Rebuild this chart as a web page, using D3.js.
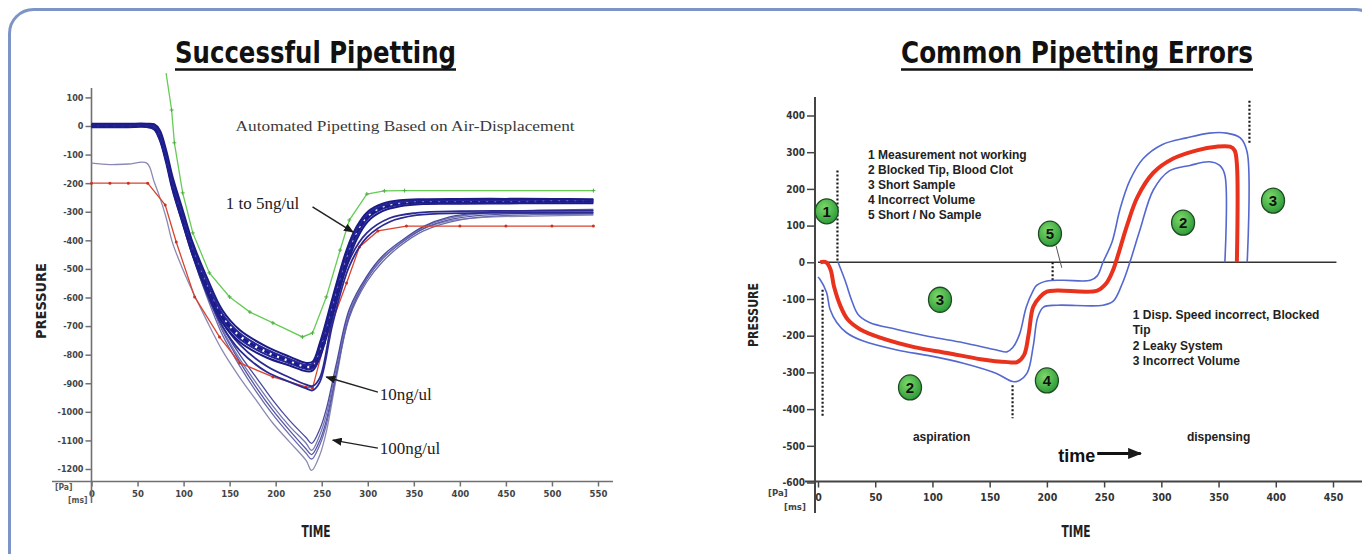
<!DOCTYPE html>
<html>
<head>
<meta charset="utf-8">
<script src="https://cdn.jsdelivr.net/npm/d3@7"></script>
<style>
body { margin: 0; background: #fff; }
svg { display: block; }
</style>
</head>
<body>
<svg id="chart" width="1362" height="554"></svg>
<script>
// ---------- left chart: Successful Pipetting ----------
const leftXTicks = [0, 50, 100, 150, 200, 250, 300, 350, 400, 450, 500, 550];
const leftYTicks = [100, 0, -100, -200, -300, -400, -500, -600, -700, -800, -900, -1000, -1100, -1200];

// 1 to 5ng/ul band
const bandTime = [0, 20, 40, 60, 68, 74, 81, 88, 99, 110, 125, 142, 161, 190, 215, 233, 240, 248, 262, 277, 288, 300, 316, 335, 360, 400, 450, 500, 545];
const band1 = [8, 8, 8, 8, 6, -14, -84, -178, -294, -409, -528, -644, -714, -772, -807, -829, -825, -759, -598, -434, -352, -300, -272, -260, -256, -255, -255, -255, -256];
const band2 = [4, 5, 4, 5, 0, -25, -98, -192, -308, -420, -542, -656, -725, -782, -815, -836, -832, -772, -612, -448, -362, -308, -278, -265, -260, -259, -259, -258, -259];
const band3 = [1, 2, 1, 2, -4, -32, -108, -202, -318, -430, -552, -665, -735, -790, -822, -843, -840, -785, -625, -460, -372, -316, -284, -270, -264, -263, -263, -262, -262];
const band4 = [-2, -1, -2, -1, -8, -40, -118, -212, -328, -440, -562, -675, -745, -800, -830, -850, -848, -798, -640, -474, -384, -324, -290, -275, -268, -267, -267, -266, -266];
const band5 = [-4, -4, -4, -4, -12, -48, -128, -224, -340, -452, -574, -686, -756, -810, -838, -858, -856, -810, -655, -488, -396, -334, -298, -281, -273, -272, -271, -270, -270];

// 10ng/ul
const tenTime = [0, 20, 40, 60, 68, 74, 81, 88, 99, 110, 125, 142, 161, 190, 215, 233, 240, 248, 262, 280, 299, 324, 353, 400, 450, 500, 545];
const ten1 = [2, 2, 2, 2, -8, -40, -115, -212, -330, -445, -570, -685, -765, -840, -880, -905, -910, -880, -668, -469, -374, -322, -304, -298, -297, -297, -297];
const ten2 = [0, 0, 0, 0, -10, -45, -120, -220, -340, -455, -585, -700, -785, -860, -895, -918, -925, -895, -690, -490, -390, -335, -312, -305, -304, -304, -304];

// 100ng/ul
const hundredTime = [0, 20, 40, 60, 68, 74, 81, 88, 99, 110, 125, 142, 161, 179, 197, 215, 233, 239, 248, 255, 266, 280, 299, 316, 335, 360, 389, 425, 480, 545];
const hundred1 = [0, 0, 0, 0, -5, -40, -115, -210, -330, -445, -575, -700, -800, -880, -960, -1030, -1090, -1110, -1060, -990, -830, -640, -525, -455, -405, -352, -318, -302, -295, -292];
const hundred2 = [0, 0, 0, 0, -5, -35, -105, -200, -325, -445, -580, -710, -815, -900, -980, -1050, -1110, -1135, -1080, -1010, -845, -650, -530, -462, -410, -355, -322, -306, -298, -296];
const hundred3 = [3, 3, 3, 3, -2, -30, -100, -195, -320, -440, -580, -715, -825, -915, -995, -1065, -1130, -1150, -1100, -1030, -860, -660, -535, -465, -412, -360, -328, -312, -305, -303];
const hundred4 = [0, 0, 0, 0, -5, -40, -110, -205, -330, -455, -595, -730, -840, -930, -1010, -1080, -1145, -1165, -1115, -1045, -870, -670, -545, -475, -420, -368, -336, -318, -310, -308];
const hundred5 = [-130, -135, -133, -130, -195, -248, -320, -409, -500, -580, -680, -785, -880, -960, -1040, -1105, -1170, -1205, -1150, -1070, -880, -665, -535, -462, -412, -360, -332, -320, -315, -312];

// green and red reference runs
const greenTime = [81, 87, 90, 99, 110, 128, 150, 172, 197, 229, 240, 255, 270, 280, 299, 318, 340, 545];
const greenValues = [185, 56, -59, -234, -374, -514, -598, -651, -689, -738, -724, -598, -434, -329, -238, -227, -226, -226];
const redTime = [0, 20, 40, 61, 80, 92, 112, 139, 161, 197, 233, 240, 253, 277, 291, 311, 342, 400, 450, 500, 545];
const redValues = [-200, -200, -200, -200, -276, -406, -598, -738, -829, -878, -913, -917, -759, -549, -423, -367, -350, -350, -350, -350, -350];

// ---------- right chart: Common Pipetting Errors ----------
const rightXTicks = [0, 50, 100, 150, 200, 250, 300, 350, 400, 450];
const rightYTicks = [400, 300, 200, 100, 0, -100, -200, -300, -400, -500, -600];

const redTimeR = [2, 7, 11, 14, 20, 26, 37, 55, 84, 113, 142, 166, 174, 180, 184, 188, 194, 200, 209, 244, 252, 258, 262, 270, 279, 293, 310, 331, 348, 360, 364, 366, 366];
const redValuesR = [0, 0, -20, -66, -122, -156, -183, -206, -231, -247, -264, -272, -272, -253, -197, -122, -94, -80, -77, -77, -57, -20, 18, 100, 177, 244, 282, 305, 315, 315, 305, 268, 0];
const upperTime = [17.5, 23.6, 29.7, 35, 45, 69, 98, 127, 156, 165, 170, 176, 182, 188, 191, 200, 214, 238, 244, 249, 257, 264, 272.5, 284, 301, 322, 342, 357, 369, 375, 375];
const upperValues = [0, -49, -106, -142, -164, -183, -203, -219, -239, -244, -233, -197, -122, -77, -63, -51, -49, -49, -37, 0, 56, 146, 223, 282, 321, 339, 352, 352, 339, 300, 0];
const lowerTime = [0, 1.7, 7.5, 10.5, 16.4, 25, 39, 69, 98, 127, 156, 170, 176, 183, 188, 192, 197, 209, 249, 258, 266, 272.5, 281, 293, 307, 325, 342, 351, 355.5, 355.5];
const lowerValues = [-40, -46, -82, -128, -164, -192, -214, -239, -255, -275, -303, -325, -322, -300, -230, -150, -122, -117, -117, -106, -57, 0, 85, 197, 249, 264, 274, 264, 238, 0];

// dotted markers: [time, from, to]
const dottedMarks = [[17, 250, 0], [4, -75, -420], [170, -335, -425], [205, 0, -50], [377, 440, 320]];
// numbered error badges: [label, time, pressure]
const badges = [["1", 7.6, 139], ["3", 106.6, -102], ["2", 80.4, -341], ["4", 200, -322], ["5", 202.7, 78], ["2", 319, 108], ["3", 397.6, 168]];
const aspirationNotes = ["1 Measurement not working", "2 Blocked Tip, Blood Clot", "3 Short Sample", "4 Incorrect Volume", "5 Short / No Sample"];
const dispensingNotes = ["1 Disp. Speed incorrect, Blocked", "Tip", "2 Leaky System", "3 Incorrect Volume"];

// ---------- drawing ----------
const condFont = '"DejaVu Sans Condensed","Liberation Sans Narrow","DejaVu Sans",sans-serif';
const armFont = '"Liberation Sans",Arial,sans-serif';
const serifFont = '"Liberation Serif","DejaVu Serif",serif';

const svg = d3.select("#chart");

svg.append("rect")
    .attr("x", 9.5).attr("y", 9.5)
    .attr("width", 1370).attr("height", 580)
    .attr("rx", 24)
    .attr("fill", "none")
    .attr("stroke", "#7d95c6")
    .attr("stroke-width", 3);

const defs = svg.append("defs");
function arrowMarker(id, w, h) {
    defs.append("marker")
        .attr("id", id)
        .attr("viewBox", "0 0 10 8")
        .attr("refX", 9).attr("refY", 4)
        .attr("markerWidth", w).attr("markerHeight", h)
        .attr("markerUnits", "userSpaceOnUse")
        .attr("orient", "auto")
        .append("path").attr("d", "M0,0L10,4L0,8Z").attr("fill", "#1a1a1a");
}
arrowMarker("arrow", 10, 8);
arrowMarker("arrowBig", 14, 12);
const grad = defs.append("radialGradient").attr("id", "badge").attr("cx", "40%").attr("cy", "35%").attr("r", "65%");
grad.append("stop").attr("offset", "0%").attr("stop-color", "#7cd96a");
grad.append("stop").attr("offset", "100%").attr("stop-color", "#2f9c3a");

function title(text, x, width) {
    svg.append("text")
        .attr("x", x).attr("y", 63)
        .attr("font-family", condFont)
        .attr("font-weight", "bold")
        .attr("font-size", 31)
        .attr("textLength", width)
        .attr("lengthAdjust", "spacingAndGlyphs")
        .attr("fill", "#111")
        .text(text);
    svg.append("line")
        .attr("x1", x).attr("x2", x + width)
        .attr("y1", 69.5).attr("y2", 69.5)
        .attr("stroke", "#111").attr("stroke-width", 2.5);
}
title("Successful Pipetting", 175, 281);
title("Common Pipetting Errors", 901, 352);

function styleAxis(g, size, color, textColor) {
    g.attr("font-family", condFont)
        .attr("font-weight", "bold")
        .attr("font-size", size);
    g.select(".domain").remove();
    g.selectAll(".tick line").attr("stroke", color).attr("stroke-width", 1.5);
    g.selectAll(".tick text").attr("fill", textColor);
}

// ----- left chart -----
const xL = d3.scaleLinear().domain([0, 550]).range([91.5, 598]);
const yL = d3.scaleLinear().domain([-1200, 100]).range([469, 97.4]);
const leftG = svg.append("g");
const axisColL = "#707070";

leftG.append("g")
    .attr("transform", `translate(${xL(0)},0)`)
    .call(d3.axisLeft(yL).tickValues(leftYTicks).tickSize(6).tickPadding(2).tickFormat(d => String(d)))
    .call(g => styleAxis(g, 9, axisColL, "#444"));
leftG.append("g")
    .attr("transform", "translate(0,481.5)")
    .call(d3.axisBottom(xL).tickValues(leftXTicks).tickSize(5).tickPadding(4).tickFormat(d => String(d)))
    .call(g => styleAxis(g, 9.5, axisColL, "#444"));
leftG.append("line")
    .attr("x1", xL(0)).attr("x2", xL(0)).attr("y1", 88).attr("y2", 503)
    .attr("stroke", axisColL).attr("stroke-width", 1.6);
leftG.append("line")
    .attr("x1", 52).attr("x2", 613).attr("y1", 481.5).attr("y2", 481.5)
    .attr("stroke", axisColL).attr("stroke-width", 1.6);

leftG.append("text").attr("x", 55).attr("y", 490).text("[Pa]")
    .attr("font-family", condFont).attr("font-weight", "bold").attr("font-size", 8.5).attr("fill", "#555");
leftG.append("text").attr("x", 68).attr("y", 503).text("[ms]")
    .attr("font-family", condFont).attr("font-weight", "bold").attr("font-size", 8.5).attr("fill", "#555");
leftG.append("text")
    .attr("transform", "translate(46,301) rotate(-90)")
    .attr("text-anchor", "middle")
    .attr("font-family", condFont).attr("font-weight", "bold").attr("font-size", 14)
    .attr("textLength", 76).attr("lengthAdjust", "spacingAndGlyphs")
    .attr("fill", "#222").text("PRESSURE");
leftG.append("text")
    .attr("x", 316).attr("y", 537).attr("text-anchor", "middle")
    .attr("font-family", condFont).attr("font-weight", "bold").attr("font-size", 15)
    .attr("textLength", 29).attr("lengthAdjust", "spacingAndGlyphs")
    .attr("fill", "#222").text("TIME");

const lineL = d3.line().x(d => xL(d[0])).y(d => yL(d[1])).curve(d3.curveCatmullRom.alpha(0.5));
const polyL = d3.line().x(d => xL(d[0])).y(d => yL(d[1]));

const hundredSeries = [
    [hundred5, "#8a8ab4"], [hundred4, "#6a6aae"], [hundred3, "#5555a6"],
    [hundred2, "#7676b4"], [hundred1, "#4a4aa0"]
];
hundredSeries.forEach(([vals, col]) => {
    leftG.append("path")
        .attr("d", lineL(d3.zip(hundredTime, vals)))
        .attr("fill", "none").attr("stroke", col).attr("stroke-width", 1.3);
});

leftG.append("path")
    .attr("d", polyL(d3.zip(greenTime, greenValues)))
    .attr("fill", "none").attr("stroke", "#66cc55").attr("stroke-width", 1.3);
leftG.append("g").selectAll("path")
    .data(d3.zip(greenTime, greenValues).slice(1))
    .join("path")
    .attr("d", d => `M${xL(d[0]) - 2},${yL(d[1])}h4M${xL(d[0])},${yL(d[1]) - 2}v4`)
    .attr("stroke", "#4fae44").attr("stroke-width", 1);

leftG.append("path")
    .attr("d", polyL(d3.zip(redTime, redValues)))
    .attr("fill", "none").attr("stroke", "#d9432f").attr("stroke-width", 1.3);
leftG.append("g").selectAll("circle")
    .data(d3.zip(redTime, redValues))
    .join("circle")
    .attr("cx", d => xL(d[0])).attr("cy", d => yL(d[1])).attr("r", 1.5)
    .attr("fill", "#c8321f");

[ten1, ten2].forEach(vals => {
    leftG.append("path")
        .attr("d", lineL(d3.zip(tenTime, vals)))
        .attr("fill", "none").attr("stroke", "#2a2a92").attr("stroke-width", 1.8);
});

[band5, band4, band3, band2, band1].forEach((vals, i) => {
    leftG.append("path")
        .attr("d", lineL(d3.zip(bandTime, vals)))
        .attr("fill", "none").attr("stroke", i % 2 ? "#26269a" : "#1b1b86")
        .attr("stroke-width", i === 2 ? 3.4 : 2)
        .attr("stroke-dasharray", i === 2 ? "6,2" : null);
});

// annotations
leftG.append("text")
    .attr("x", xL(156.5)).attr("y", yL(-17.5))
    .attr("font-family", serifFont).attr("font-size", 15.5)
    .attr("textLength", 339).attr("lengthAdjust", "spacingAndGlyphs")
    .attr("fill", "#3a3a3a").text("Automated Pipetting Based on Air-Displacement");
const leftNotes = [
    ["1 to 5ng/ul", 145.7, -290, [[240, -283], [284, -371]]],
    ["10ng/ul", 313, -959, [[311, -931], [255, -878]]],
    ["100ng/ul", 313, -1148, [[311, -1127], [262, -1099]]]
];
leftNotes.forEach(([label, t, p, arrow]) => {
    leftG.append("text")
        .attr("x", xL(t)).attr("y", yL(p))
        .attr("font-family", serifFont).attr("font-size", 17)
        .attr("fill", "#222").text(label);
    leftG.append("path")
        .attr("d", polyL(arrow))
        .attr("stroke", "#222").attr("stroke-width", 1.5)
        .attr("marker-end", "url(#arrow)");
});

// ----- right chart -----
const xR = d3.scaleLinear().domain([0, 450]).range([818, 1333]);
const yR = d3.scaleLinear().domain([-600, 400]).range([482.5, 115.5]);
const rightG = svg.append("g");
const axisColR = "#444";

rightG.append("g")
    .attr("transform", "translate(815,0)")
    .call(d3.axisLeft(yR).tickValues(rightYTicks).tickSize(8).tickPadding(2).tickFormat(d => String(d)))
    .call(g => styleAxis(g, 10, axisColR, "#333"));
rightG.append("g")
    .attr("transform", "translate(0,481.5)")
    .call(d3.axisBottom(xR).tickValues(rightXTicks).tickSize(6).tickPadding(6).tickFormat(d => String(d)))
    .call(g => styleAxis(g, 10.5, axisColR, "#333"));
rightG.append("line")
    .attr("x1", 815).attr("x2", 815).attr("y1", 97).attr("y2", 513)
    .attr("stroke", axisColR).attr("stroke-width", 2);
rightG.append("line")
    .attr("x1", 805).attr("x2", 1362).attr("y1", 481.5).attr("y2", 481.5)
    .attr("stroke", axisColR).attr("stroke-width", 2);
rightG.append("line")
    .attr("x1", xR(0)).attr("x2", xR(453)).attr("y1", yR(0)).attr("y2", yR(0))
    .attr("stroke", "#333").attr("stroke-width", 1.5);

rightG.append("text").attr("x", 768).attr("y", 496).text("[Pa]")
    .attr("font-family", condFont).attr("font-weight", "bold").attr("font-size", 9.5).attr("fill", "#444");
rightG.append("text").attr("x", 784).attr("y", 510).text("[ms]")
    .attr("font-family", condFont).attr("font-weight", "bold").attr("font-size", 9.5).attr("fill", "#444");
rightG.append("text")
    .attr("transform", "translate(758,315) rotate(-90)")
    .attr("text-anchor", "middle")
    .attr("font-family", condFont).attr("font-weight", "bold").attr("font-size", 14)
    .attr("textLength", 64).attr("lengthAdjust", "spacingAndGlyphs")
    .attr("fill", "#222").text("PRESSURE");
rightG.append("text")
    .attr("x", 1076).attr("y", 537).attr("text-anchor", "middle")
    .attr("font-family", condFont).attr("font-weight", "bold").attr("font-size", 15)
    .attr("textLength", 29).attr("lengthAdjust", "spacingAndGlyphs")
    .attr("fill", "#222").text("TIME");

rightG.append("g").selectAll("line")
    .data(dottedMarks)
    .join("line")
    .attr("x1", d => xR(d[0])).attr("x2", d => xR(d[0]))
    .attr("y1", d => yR(d[1])).attr("y2", d => yR(d[2]))
    .attr("stroke", "#1a1a1a").attr("stroke-width", 2.2)
    .attr("stroke-dasharray", "2,2");

const lineR = d3.line().x(d => xR(d[0])).y(d => yR(d[1])).curve(d3.curveCatmullRom.alpha(0.5));
rightG.append("path").attr("d", lineR(d3.zip(upperTime, upperValues)))
    .attr("fill", "none").attr("stroke", "#5468d0").attr("stroke-width", 1.6);
rightG.append("path").attr("d", lineR(d3.zip(lowerTime, lowerValues)))
    .attr("fill", "none").attr("stroke", "#5468d0").attr("stroke-width", 1.6);
rightG.append("path").attr("d", lineR(d3.zip(redTimeR, redValuesR)))
    .attr("fill", "none").attr("stroke", "#e8321e").attr("stroke-width", 4);

// leader from badge 5
rightG.append("line")
    .attr("x1", xR(208)).attr("y1", yR(45)).attr("x2", xR(213)).attr("y2", yR(-15))
    .attr("stroke", "#555").attr("stroke-width", 1);

const badgeG = rightG.append("g").selectAll("g")
    .data(badges)
    .join("g")
    .attr("transform", d => `translate(${xR(d[1])},${yR(d[2])})`);
badgeG.append("ellipse")
    .attr("rx", 11.5).attr("ry", 12.5)
    .attr("fill", "url(#badge)").attr("stroke", "#1f4a22").attr("stroke-width", 1.3);
badgeG.append("text")
    .attr("text-anchor", "middle").attr("dy", "0.36em")
    .attr("font-family", armFont).attr("font-weight", "bold").attr("font-size", 15)
    .attr("fill", "#111").text(d => d[0]);

rightG.append("g").selectAll("text")
    .data(aspirationNotes)
    .join("text")
    .attr("x", xR(43.7)).attr("y", (d, i) => yR(281 - i * 40.9))
    .attr("font-family", armFont).attr("font-weight", "bold").attr("font-size", 12)
    .attr("fill", "#222").text(d => d);
rightG.append("g").selectAll("text")
    .data(dispensingNotes)
    .join("text")
    .attr("x", xR(275)).attr("y", (d, i) => yR(-155 - i * 41.5))
    .attr("font-family", armFont).attr("font-weight", "bold").attr("font-size", 12)
    .attr("fill", "#222").text(d => d);

[["aspiration", 108], ["dispensing", 350]].forEach(([label, t]) => {
    rightG.append("text")
        .attr("x", xR(t)).attr("y", yR(-486)).attr("text-anchor", "middle")
        .attr("font-family", armFont).attr("font-weight", "bold").attr("font-size", 12)
        .attr("fill", "#222").text(label);
});
rightG.append("text")
    .attr("x", xR(210)).attr("y", yR(-543))
    .attr("font-family", armFont).attr("font-weight", "bold").attr("font-size", 18)
    .attr("fill", "#111").text("time");
rightG.append("line")
    .attr("x1", xR(244)).attr("x2", xR(282)).attr("y1", yR(-521)).attr("y2", yR(-521))
    .attr("stroke", "#111").attr("stroke-width", 3)
    .attr("marker-end", "url(#arrowBig)");
</script>
</body>
</html>
